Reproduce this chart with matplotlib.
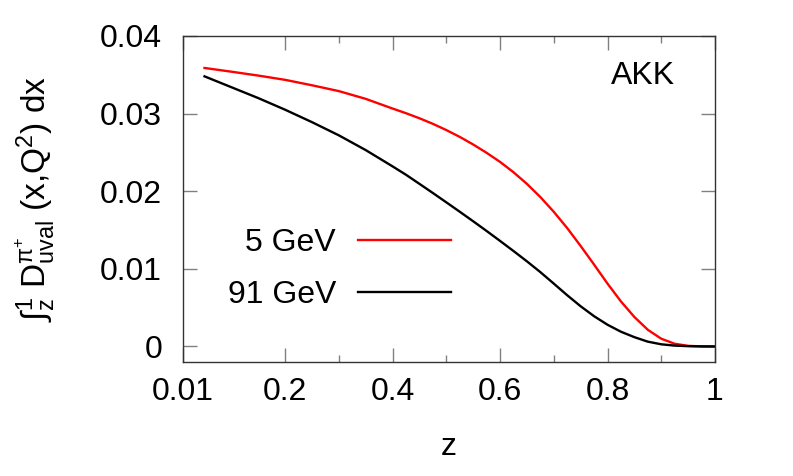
import numpy as np
import matplotlib
matplotlib.use("Agg")
import matplotlib.pyplot as plt

# values (z, integral of D_uval^{pi+} from z to 1)
z = [0.05, 0.10, 0.15, 0.20, 0.25, 0.30, 0.35, 0.40, 0.425, 0.45,
     0.475, 0.50, 0.525, 0.55, 0.575, 0.60, 0.625, 0.65, 0.675, 0.70,
     0.725, 0.75, 0.775, 0.80, 0.825, 0.85, 0.875, 0.90, 0.925, 0.95,
     0.975, 1.00]
d_5gev = [0.03588, 0.03540, 0.03490, 0.03435, 0.03365, 0.03290, 0.03190, 0.03065, 0.03005, 0.02940,
          0.02868, 0.02788, 0.02700, 0.02602, 0.02495, 0.02378, 0.02245, 0.02095, 0.01925, 0.01735,
          0.01525, 0.01295, 0.01055, 0.00810, 0.00580, 0.00380, 0.00215, 0.00100, 0.00035, 0.00008,
          0.00001, 0.0]
d_91gev = [0.03480, 0.03340, 0.03200, 0.03050, 0.02890, 0.02720, 0.02530, 0.02320, 0.02212, 0.02095,
           0.01977, 0.01857, 0.01736, 0.01613, 0.01488, 0.01360, 0.01230, 0.01097, 0.00958, 0.00810,
           0.00660, 0.00518, 0.00390, 0.00280, 0.00190, 0.00120, 0.00062, 0.00028, 0.00011, 0.00004,
           0.00001, 0.0]

xticks_major = [0.01, 0.2, 0.4, 0.6, 0.8, 1.0]
xtick_labels = ["0.01", "0.2", "0.4", "0.6", "0.8", "1"]
xticks_minor = [0.3, 0.5, 0.7, 0.9]
yticks = [0.0, 0.01, 0.02, 0.03, 0.04]
ytick_labels = ["0", "0.01", "0.02", "0.03", "0.04"]

plt.rcParams["font.family"] = ["Liberation Sans", "DejaVu Sans"]
plt.rcParams["mathtext.fontset"] = "custom"
plt.rcParams["mathtext.rm"] = "Liberation Sans"
plt.rcParams["mathtext.it"] = "Liberation Sans"
plt.rcParams["mathtext.default"] = "regular"

fs = 23
fig = plt.figure(figsize=(7.93, 4.76), dpi=100)
ax = fig.add_axes([0.2308, 0.2395, 0.6708, 0.6849])

ax.plot(z, d_5gev, color="#ff0000", lw=1.7, label="5 GeV")
ax.plot(z, d_91gev, color="black", lw=1.7, label="91 GeV")

ax.set_xlim(0.01, 1.0)
ax.set_ylim(-0.002, 0.04)
ax.set_xticks(xticks_major)
ax.set_xticklabels(xtick_labels)
ax.set_xticks(xticks_minor, minor=True)
ax.set_yticks(yticks)
ax.set_yticklabels(ytick_labels)

ax.tick_params(which="both", direction="in", top=True, right=True,
               color="#808080", width=1.0, labelsize=fs, pad=15)
ax.tick_params(which="major", length=10)
ax.tick_params(which="minor", length=5)
ax.tick_params(axis="x", pad=11)
for sp in ax.spines.values():
    sp.set_color("#333333")
    sp.set_linewidth(1.0)

ax.set_xlabel("z", fontsize=fs)
ax.set_ylabel(r"$\mathrm{∫}_{z}^{1}$ D$^{\pi^{+}}_{uval}$ (x,Q$^{2}$) dx", fontsize=24)
ax.xaxis.set_label_coords(0.5, -0.215)
ax.yaxis.set_label_coords(-0.237, 0.5)

ax.text(0.865, 0.877, "AKK", transform=ax.transAxes, ha="center", va="center", fontsize=fs)

ax.legend(loc="center right", bbox_to_anchor=(0.504, 0.2847), frameon=False,
          markerfirst=False, fontsize=fs, handlelength=2.9, handletextpad=0.7,
          labelspacing=0.69, borderpad=0, borderaxespad=0)

fig.savefig("out.png", dpi=100)
